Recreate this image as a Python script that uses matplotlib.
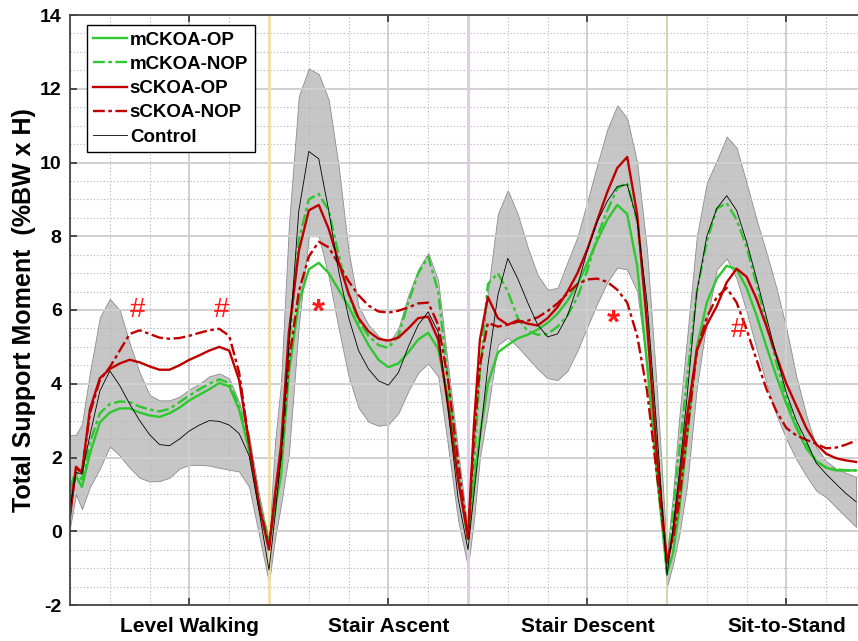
import numpy as np
import matplotlib
matplotlib.use("Agg")
import matplotlib.pyplot as plt

plt.rcParams['font.family'] = ['Liberation Sans', 'DejaVu Sans']
plt.rcParams['font.weight'] = 'bold'
plt.rcParams['axes.unicode_minus'] = False

# four tasks, each normalised to 0-100 % and put end to end
tasks = ["Level Walking", "Stair Ascent", "Stair Descent", "Sit-to-Stand"]
pct = [0, 3, 6, 10, 15, 20, 25, 30, 35, 40, 45, 50, 55, 60, 65, 70, 75, 80, 85, 90, 95]

control = [
    0.6, 1.6, 1.55, 2.6, 3.8, 4.35, 3.95, 3.45, 3.0, 2.62, 2.35, 2.32, 2.5, 2.72, 2.88, 3.0, 2.98, 2.88, 2.65, 2.05, 0.55,
    -1.05, 0.4, 2.0, 5.0, 8.7, 10.3, 10.1, 8.7, 7.05, 5.8, 4.9, 4.4, 4.08, 3.96, 4.3, 5.0, 5.6, 5.95, 5.4, 3.3, 0.9,
    -0.5, 1.0, 2.5, 4.5, 6.4, 7.4, 6.85, 6.2, 5.6, 5.27, 5.35, 5.85, 6.65, 7.62, 8.4, 8.95, 9.35, 9.4, 8.45, 6.2, 2.7,
    -1.2, 0.1, 1.5, 3.6, 6.5, 8.0, 8.75, 9.1, 8.7, 7.85, 6.85, 5.8, 4.75, 3.75, 3.0, 2.45, 1.85, 1.55, 1.28, 1.02, 0.8]
control_hi = [
    2.6, 2.62, 2.9, 4.3, 5.8, 6.3, 6.0, 5.1, 4.3, 3.7, 3.55, 3.55, 3.65, 3.85, 4.0, 4.2, 4.28, 4.15, 3.5, 2.6, 1.0,
    -0.3, 2.4, 4.0, 8.3, 11.8, 12.55, 12.4, 11.7, 9.9, 7.6, 6.1, 5.6, 5.3, 5.08, 5.5, 6.4, 7.1, 7.55, 6.8, 4.5, 2.2,
    0.0, 2.5, 4.5, 6.5, 8.6, 9.25, 8.6, 7.7, 6.95, 6.55, 6.6, 7.3, 7.98, 8.95, 9.95, 10.9, 11.55, 11.2, 10.0, 7.6, 3.8,
    -0.6, 1.0, 3.0, 5.2, 8.0, 9.45, 10.05, 10.7, 10.4, 9.45, 8.45, 7.55, 6.6, 5.5, 4.2, 3.15, 2.28, 1.9, 1.7, 1.58, 1.48]
control_lo = [
    0.1, 1.0, 0.6, 1.2, 1.7, 2.3, 2.05, 1.72, 1.45, 1.35, 1.36, 1.45, 1.7, 1.8, 1.8, 1.78, 1.72, 1.67, 1.62, 1.2, -0.1,
    -1.4, -0.2, 0.7, 2.1, 5.6, 8.0, 8.0, 6.9, 5.5, 4.2, 3.35, 2.97, 2.86, 2.9, 3.2, 3.8, 4.3, 4.55, 4.2, 2.3, 0.3,
    -0.97, 0.3, 2.0, 3.3, 5.05, 5.25, 5.0, 4.7, 4.4, 4.15, 4.1, 4.35, 4.9, 5.55, 6.18, 6.75, 7.15, 7.1, 6.5, 4.5, 1.5,
    -1.5, -0.9, -0.15, 1.2, 3.9, 5.7, 7.1, 7.4, 6.85, 5.95, 4.95, 4.0, 3.15, 2.5, 1.95, 1.5, 1.1, 0.92, 0.65, 0.38, 0.12]
mckoa_op = [
    1.0, 1.5, 1.2, 2.1, 2.95, 3.22, 3.33, 3.33, 3.22, 3.14, 3.1, 3.2, 3.35, 3.55, 3.7, 3.85, 4.02, 3.93, 3.3, 2.2, 0.75,
    -0.3, 0.6, 1.5, 4.3, 6.2, 7.1, 7.28, 7.0, 6.55, 6.1, 5.55, 5.05, 4.65, 4.45, 4.55, 4.85, 5.2, 5.38, 4.95, 3.6, 1.5,
    -0.2, 1.3, 2.6, 4.0, 4.85, 5.05, 5.23, 5.33, 5.47, 5.65, 5.9, 6.25, 6.7, 7.27, 7.89, 8.45, 8.85, 8.6, 7.2, 4.5, 1.5,
    -1.15, -0.6, 0.5, 2.5, 5.0, 6.2, 6.85, 7.2, 7.1, 6.6, 5.85, 5.0, 4.2, 3.45, 2.8, 2.25, 1.9, 1.72, 1.65, 1.65, 1.65]
mckoa_nop = [
    1.2, 1.6, 1.4, 2.4, 3.2, 3.45, 3.52, 3.5, 3.38, 3.3, 3.25, 3.32, 3.5, 3.68, 3.85, 4.0, 4.12, 4.02, 3.4, 2.3, 0.8,
    -0.25, 0.5, 1.8, 5.0, 7.9, 9.0, 9.15, 8.7, 7.5, 6.4, 5.7, 5.3, 5.05, 4.97, 5.3, 6.2, 7.0, 7.45, 6.5, 4.1, 1.6,
    -0.25, 1.8, 4.3, 6.7, 7.0, 6.5, 5.78, 5.42, 5.33, 5.35, 5.55, 5.85, 6.35, 7.08, 8.0, 8.7, 9.3, 9.45, 8.4, 5.9, 2.3,
    -1.0, 0.5, 2.1, 4.1, 6.5, 7.85, 8.75, 8.9, 8.45, 7.7, 6.7, 5.65, 4.55, 3.6, 2.85, 2.35, 1.9, 1.73, 1.68, 1.65, 1.65]
sckoa_op = [
    0.4, 1.75, 1.6, 3.3, 4.15, 4.4, 4.55, 4.65, 4.58, 4.47, 4.38, 4.38, 4.5, 4.65, 4.77, 4.9, 5.0, 4.9, 4.1, 2.4, 0.7,
    -0.5, 1.0, 2.3, 5.4, 7.6, 8.7, 8.85, 8.2, 7.3, 6.45, 5.78, 5.42, 5.22, 5.17, 5.25, 5.5, 5.78, 5.82, 5.2, 3.4, 1.4,
    -0.15, 2.9, 5.2, 6.35, 5.78, 5.6, 5.72, 5.63, 5.58, 5.78, 6.08, 6.5, 7.0, 7.65, 8.44, 9.2, 9.85, 10.15, 8.6, 5.6, 2.0,
    -0.85, -0.1, 1.2, 3.1, 4.9, 5.6, 6.1, 6.75, 7.12, 6.9, 6.3, 5.55, 4.75, 4.0, 3.4, 2.8, 2.36, 2.1, 1.98, 1.92, 1.88]
sckoa_nop = [
    0.5, 1.7, 1.6, 3.2, 4.1, 4.45, 4.9, 5.35, 5.45, 5.35, 5.25, 5.22, 5.24, 5.3, 5.38, 5.45, 5.49, 5.3, 4.3, 2.4, 0.7,
    -0.4, 0.9, 2.0, 4.6, 6.5, 7.45, 7.85, 7.7, 7.25, 6.78, 6.4, 6.12, 5.96, 5.93, 5.98, 6.07, 6.18, 6.2, 5.6, 4.1, 1.9,
    -0.2, 2.5, 4.5, 5.65, 5.55, 5.6, 5.68, 5.71, 5.8, 5.97, 6.18, 6.45, 6.7, 6.83, 6.85, 6.76, 6.55, 6.2, 5.3, 3.8, 1.5,
    -0.8, -0.2, 0.75, 2.6, 4.9, 5.8, 6.35, 6.6, 6.2, 5.47, 4.65, 3.85, 3.25, 2.8, 2.6, 2.48, 2.37, 2.25, 2.27, 2.35, 2.46]

# significance marks: (task index, % of task, value, symbol)
marks = [(0, 34, 6.0, "#"), (0, 76, 6.0, "#"), (3, 36, 5.45, "#"),
         (1, 25, 5.93, "*"), (2, 73, 5.63, "*")]

x = np.array([100 * k + p for k in range(4) for p in pct])

green = "#2dc82d"
red = "#c00000"
dashdot = (0, (5, 1.5, 1.5, 1.5))

fig = plt.figure(figsize=(8.58, 6.41), dpi=100)
ax = fig.add_axes([70 / 858, 36 / 641, 796 / 858, 590 / 641])

ax.fill_between(x, control_lo, control_hi, facecolor="#c6c6c6", edgecolor="#8c8c8c", lw=0.6, zorder=1)

for xs, c, w in [(100, "#f0e0a8", 2.0), (200, "#e0c8ea", 2.0), (300, "#c2dca2", 1.2)]:
    ax.axvline(xs, color=c, lw=w, zorder=1.8)

ax.plot(x, mckoa_op, color=green, lw=1.7, label="mCKOA-OP", zorder=2)
ax.plot(x, mckoa_nop, color=green, lw=1.7, ls=dashdot, label="mCKOA-NOP", zorder=2)
ax.plot(x, sckoa_op, color=red, lw=1.7, label="sCKOA-OP", zorder=2.1)
ax.plot(x, sckoa_nop, color=red, lw=1.7, ls=dashdot, label="sCKOA-NOP", zorder=2.1)
ax.plot(x, control, color="black", lw=0.6, label="Control", zorder=2.2)

for k, p, v, s in marks:
    if s == "#":
        ax.text(100 * k + p, v, s, color="#ff1a1a", fontsize=20, fontweight="normal",
                ha="center", va="center", zorder=3)
    else:
        ax.text(100 * k + p, v, s, color="#ff1a1a", fontsize=24, fontweight="bold",
                ha="center", va="center", zorder=3)

ax.set_xlim(0, 400)
ax.set_ylim(-2, 14)
ax.set_xticks([60, 160, 260, 360])
ax.set_xticklabels(tasks)
ax.set_xticks(np.arange(0, 401, 20), minor=True)
ax.set_yticks(np.arange(-2, 15, 2))
ax.set_yticks(np.arange(-2, 14.01, 0.5), minor=True)
ax.grid(which="major", color="#d0d0d0", lw=1.4, ls="-")
ax.grid(which="minor", color="#b4b4b4", lw=0.8, ls=(0, (1, 2)))
ax.set_axisbelow("line")

ax.tick_params(which="major", direction="in", length=5, width=1.2, top=True, right=True,
               color="#333333")
ax.tick_params(axis="x", which="major", pad=9, labelsize=15)
ax.tick_params(axis="y", which="major", pad=6, labelsize=14)
ax.tick_params(which="minor", length=0)
for sp in ax.spines.values():
    sp.set_color("#444444")
    sp.set_linewidth(1.3)

ax.set_ylabel("Total Support Moment  (%BW x H)", fontsize=18, fontweight="bold", labelpad=3)

leg = ax.legend(loc="upper left", bbox_to_anchor=(0.021, 0.983), borderaxespad=0,
                fontsize=13.5, handlelength=1.8, handletextpad=0.15, labelspacing=0.38,
                borderpad=0.35, fancybox=False, framealpha=1, edgecolor="black")
leg.get_frame().set_linewidth(1.0)

fig.savefig("out.png", dpi=100)
